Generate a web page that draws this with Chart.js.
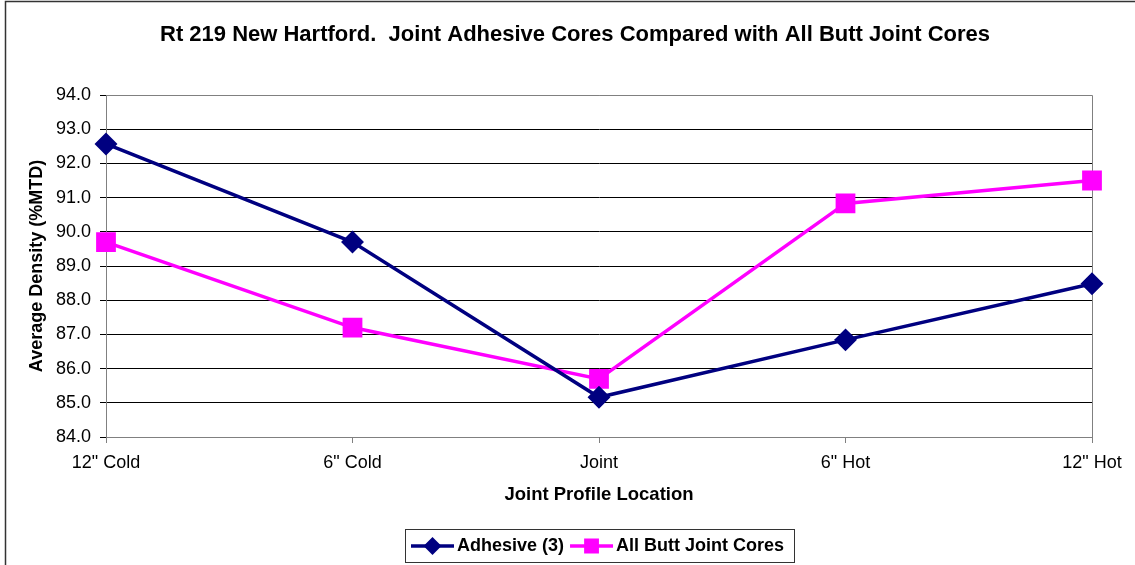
<!doctype html>
<html>
<head>
<title>Rt 219 New Hartford</title>
<script src="https://cdn.jsdelivr.net/npm/chart.js@4/dist/chart.umd.min.js"></script>
<style>
  html, body { margin: 0; padding: 0; background: #fff; overflow: hidden; }
  #wrap { position: relative; width: 1135px; height: 565px; }
</style>
</head>
<body>
<div id="wrap"><canvas id="mycanvas"></canvas></div>
<script>
// data
var locations = ['12" Cold', '6" Cold', 'Joint', '6" Hot', '12" Hot'];
var adhesive = [92.57, 89.70, 85.16, 86.84, 88.48];
var buttJoint = [89.70, 87.20, 85.70, 90.83, 91.50];
var yMin = 84.0, yMax = 94.0, yStep = 1.0;

var chartTitle = 'Rt 219 New Hartford.  Joint Adhesive Cores Compared with All Butt Joint Cores';
var font = '"Liberation Sans", Arial, sans-serif';

// outer frame, title and legend drawn by hand (Excel style)
var framePlugin = {
  id: 'frame',
  beforeDraw: function(chart) {
    var ctx = chart.ctx;
    ctx.save();
    ctx.fillStyle = '#fff';
    ctx.fillRect(0, 0, chart.width, chart.height);
    ctx.strokeStyle = '#333';
    ctx.lineWidth = 1.5;
    ctx.strokeRect(5.5, 1.5, chart.width + 20, chart.height + 20);
    ctx.fillStyle = '#000';
    ctx.font = 'bold 22px ' + font;
    ctx.textAlign = 'center';
    ctx.textBaseline = 'middle';
    ctx.fillText(chartTitle, 575, 35);
    ctx.restore();
  },
  beforeDatasetsDraw: function(chart) {
    var a = chart.chartArea, ctx = chart.ctx;
    ctx.save();
    ctx.strokeStyle = '#808080';
    ctx.lineWidth = 1;
    ctx.beginPath();
    ctx.moveTo(Math.round(a.left) + 0.5, Math.round(a.top) + 0.5);
    ctx.lineTo(Math.round(a.right) + 0.5, Math.round(a.top) + 0.5);
    ctx.lineTo(Math.round(a.right) + 0.5, Math.round(a.bottom) + 0.5);
    ctx.stroke();
    ctx.restore();
  },
  afterDraw: function(chart) {
    var ctx = chart.ctx, a = chart.chartArea;
    var cx = (a.left + a.right) / 2;
    var boxW = 389, boxH = 33, boxTop = 529;
    var left = Math.round(cx - boxW / 2);
    ctx.save();
    ctx.strokeStyle = '#333';
    ctx.lineWidth = 1;
    ctx.strokeRect(left + 0.5, boxTop + 0.5, boxW, boxH);
    ctx.font = 'bold 18px ' + font;
    ctx.textBaseline = 'middle';
    ctx.textAlign = 'left';
    var x = left + 6, y = boxTop + boxH / 2 + 0.5;
    chart.data.datasets.forEach(function(ds) {
      ctx.strokeStyle = ds.borderColor;
      ctx.lineWidth = 3.5;
      ctx.beginPath();
      ctx.moveTo(x, y);
      ctx.lineTo(x + 43, y);
      ctx.stroke();
      Chart.helpers.drawPoint(ctx, {pointStyle: ds.pointStyle, radius: ds.legendRadius, rotation: 0, borderWidth: 1},
        x + 21.5, y);
      ctx.fillStyle = ds.pointBackgroundColor;
      ctx.fill();
      ctx.fillStyle = '#000';
      ctx.fillText(ds.label, x + 46, y);
      x += 46 + ctx.measureText(ds.label).width + 6;
    });
    ctx.restore();
  }
};

var ctx = document.getElementById('mycanvas');

var lineChart = new Chart(ctx, {
  type: 'line',
  data: {
    labels: locations,
    datasets: [
      {
        label: 'Adhesive (3)',
        data: adhesive,
        borderColor: '#000080',
        backgroundColor: '#000080',
        pointBackgroundColor: '#000080',
        pointBorderColor: '#000080',
        pointStyle: 'rectRot',
        pointRadius: 9,
        legendRadius: 6.5,
        borderWidth: 3.5,
        tension: 0
      },
      {
        label: 'All Butt Joint Cores',
        data: buttJoint,
        borderColor: '#FF00FF',
        backgroundColor: '#FF00FF',
        pointBackgroundColor: '#FF00FF',
        pointBorderColor: '#FF00FF',
        pointStyle: 'rect',
        pointRadius: 11.5,
        legendRadius: 8,
        borderWidth: 3.5,
        tension: 0
      }
    ]
  },
  options: {
    responsive: true,
    maintainAspectRatio: false,
    animation: false,
    layout: { padding: { top: 95, right: 43, bottom: 58, left: 0 } },
    plugins: {
      legend: { display: false },
      title: { display: false },
      tooltip: { enabled: false }
    },
    scales: {
      x: {
        offset: false,
        afterFit: function(scale) { scale.height = 70; },
        grid: {
          drawOnChartArea: false,
          drawTicks: true,
          tickLength: 6,
          tickColor: '#808080'
        },
        border: { color: '#808080', width: 1 },
        ticks: {
          color: '#000',
          padding: 9,
          maxRotation: 0,
          font: { family: font, size: 18 }
        },
        title: {
          display: true,
          text: 'Joint Profile Location',
          color: '#000',
          padding: { top: 0, bottom: 1 },
          font: { family: font, size: 18.5, weight: 'bold' }
        }
      },
      y: {
        min: yMin,
        max: yMax,
        afterFit: function(scale) { scale.width = 106; },
        grid: {
          color: function(c) { return c.tick && c.tick.value === yMax ? '#808080' : '#000'; },
          tickColor: '#000',
          tickLength: 6,
          lineWidth: 1
        },
        border: { color: '#808080', width: 1 },
        ticks: {
          stepSize: yStep,
          color: '#000',
          padding: 9,
          font: { family: font, size: 18 },
          callback: function(v) { return v.toFixed(1); }
        },
        title: {
          display: true,
          text: 'Average Density (%MTD)',
          color: '#000',
          padding: { top: 26, bottom: 0 },
          font: { family: font, size: 18, weight: 'bold' }
        }
      }
    }
  },
  plugins: [framePlugin]
});
</script>
</body>
</html>
